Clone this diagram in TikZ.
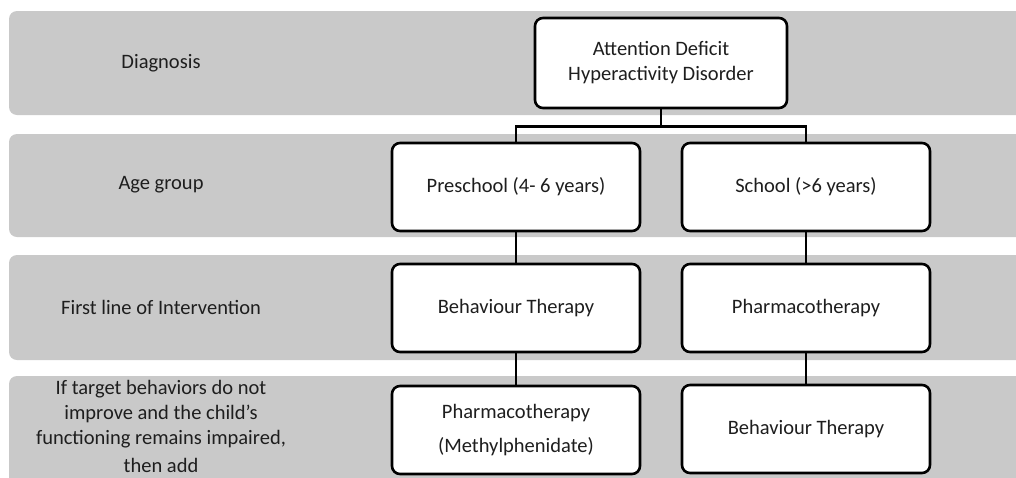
\documentclass[tikz,border=0pt]{standalone}
\usepackage{fontspec}
\setmainfont{Carlito}
\usepackage{tikz}
\usetikzlibrary{positioning,calc}
\definecolor{bandgray}{RGB}{201,201,201}
\definecolor{textgray}{RGB}{30,30,30}

\tikzset{
  band/.style={fill=bandgray,draw=none,rounded corners=8pt},
  stagebox/.style={draw,fill=white,line width=2.6pt,rounded corners=8pt,
    minimum width=248pt,minimum height=88pt,align=center,text=textgray,
    font=\fontsize{20.5}{25}\selectfont},
  rowlabel/.style={align=center,text=textgray,font=\fontsize{20.5}{25}\selectfont},
  link/.style={line width=2.6pt}
}

\begin{document}
\begin{tikzpicture}[x=1pt,y=-1pt]
\useasboundingbox (0,0) rectangle (1016,477);
\clip (0,0) rectangle (1016,477);
% background bands
\fill[band] (9,11) rectangle (1040,115);
\fill[band] (9,134) rectangle (1040,237);
\fill[band] (9,255) rectangle (1040,360);
\fill[band] (9,376) rectangle (1040,500);
% row labels
\node[rowlabel] (lDiag) at (161,63) {Diagnosis};
\node[rowlabel] (lAge) at (161,185) {Age group};
\node[rowlabel] (lFirst) at (161,307) {First line of Intervention};
\node[rowlabel] (lAdd) at (161,426) {If target behaviors do not\\improve and the child’s\\functioning remains impaired,\\[3pt]then add};
% boxes
\node[stagebox,minimum width=252pt,minimum height=90pt] (adhd) at (661,63) {Attention Deficit\\Hyperactivity Disorder};
\node[stagebox] (pre) at (516,187) {Preschool (4- 6 years)};
\node[stagebox] (sch) at (806,187) {School (>6 years)};
\node[stagebox] (preFirst) at (516,308) {Behaviour Therapy};
\node[stagebox] (schFirst) at (806,308) {Pharmacotherapy};
\node[stagebox] (preAdd) at (516,430) {Pharmacotherapy\\[9pt](Methylphenidate)};
\node[stagebox] (schAdd) at (806,429) {Behaviour Therapy};
% connectors
\draw[link] (adhd.south) -- ++(0,17) coordinate (split) -| (pre.north);
\draw[link] (split) -| (sch.north);
\draw[link] (pre.south) -- (preFirst.north);
\draw[link] (sch.south) -- (schFirst.north);
\draw[link] (preFirst.south) -- (preAdd.north);
\draw[link] (schFirst.south) -- (schAdd.north);
\end{tikzpicture}
\end{document}
